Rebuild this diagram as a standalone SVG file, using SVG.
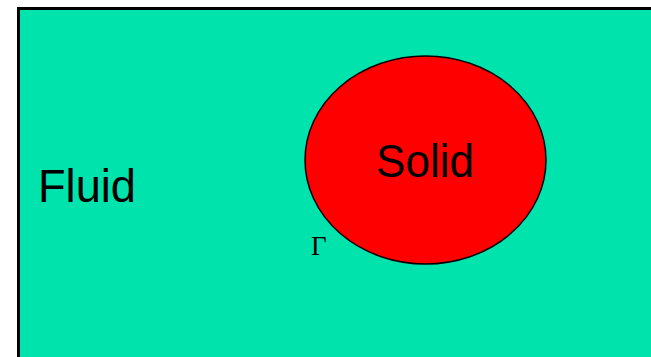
<svg xmlns="http://www.w3.org/2000/svg" width="651" height="357" viewBox="0 0 651 357">
<style>
.lbl{font-family:"Liberation Sans",Arial,sans-serif;font-size:47px;fill:#000}
.gam{font-family:"Liberation Serif","Times New Roman",serif;font-size:27px;fill:#000}
</style>
<rect width="651" height="357" fill="#fff"/>
<g id="fluid">
<rect x="18.5" y="8.5" width="700" height="400" fill="#00E3AC" stroke="#000" stroke-width="3"/>
<text class="lbl" x="38" y="202" textLength="98" lengthAdjust="spacingAndGlyphs">Fluid</text>
</g>
<g id="solid">
<ellipse cx="425.5" cy="160" rx="120.5" ry="104" fill="#FF0000" stroke="#000" stroke-width="1.5"/>
<text class="lbl" x="425" y="177" text-anchor="middle" textLength="98" lengthAdjust="spacingAndGlyphs">Solid</text>
</g>
<g id="interface">
<text class="gam" x="311" y="255">Γ</text>
</g>
</svg>
